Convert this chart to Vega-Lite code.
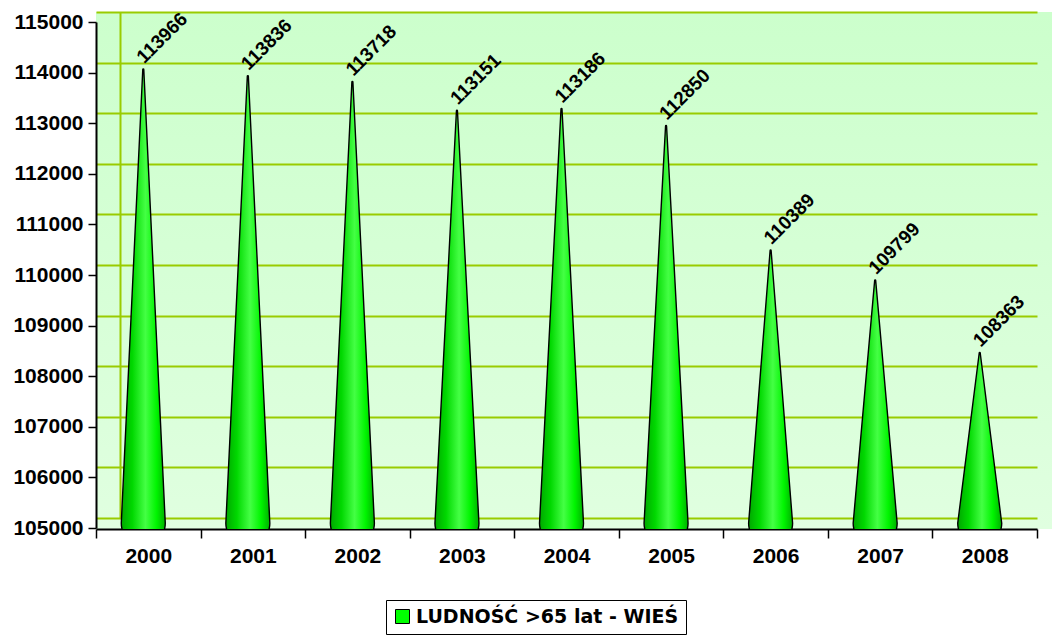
{
  "$schema": "https://vega.github.io/schema/vega-lite/v6.json",
  "width": 956,
  "height": 517,
  "autosize": {"type": "none"},
  "padding": {"left": 96, "top": 12, "right": 0, "bottom": 107},
  "background": "white",
  "view": {
    "stroke": null,
    "fill": {"gradient": "linear", "x1": 0, "y1": 0, "x2": 0, "y2": 1,
      "stops": [{"offset": 0, "color": "#ccffcc"}, {"offset": 1, "color": "#e0ffe0"}]}
  },
  "data": {"values": [
    {"year": "2000", "value": 113966, "base": 105000},
    {"year": "2001", "value": 113836, "base": 105000},
    {"year": "2002", "value": 113718, "base": 105000},
    {"year": "2003", "value": 113151, "base": 105000},
    {"year": "2004", "value": 113186, "base": 105000},
    {"year": "2005", "value": 112850, "base": 105000},
    {"year": "2006", "value": 110389, "base": 105000},
    {"year": "2007", "value": 109799, "base": 105000},
    {"year": "2008", "value": 108363, "base": 105000}
  ]},
  "encoding": {
    "x": {
      "field": "year", "type": "nominal", "sort": null,
      "scale": {"type": "band", "range": [0, 941], "paddingInner": 0, "paddingOuter": 0},
      "axis": {
        "title": null, "labelAngle": 0, "tickBand": "extent", "grid": false,
        "domainColor": "black", "domainWidth": 2,
        "tickColor": "black", "tickWidth": 1.5, "tickSize": 9,
        "labelFont": "Liberation Sans", "labelFontSize": 21, "labelFontWeight": "bold",
        "labelColor": "black", "labelPadding": 7
      }
    }
  },
  "layer": [
    {
      "transform": [{"fold": ["base", "value"], "as": ["end", "yv"]}],
      "mark": {
        "type": "trail", "clip": true,
        "fill": {"gradient": "linear", "x1": 0, "y1": 0, "x2": 1, "y2": 0,
          "stops": [
            {"offset": 0, "color": "#00a800"},
            {"offset": 0.25, "color": "#00d800"},
            {"offset": 0.55, "color": "#44ff44"},
            {"offset": 0.8, "color": "#00f500"},
            {"offset": 1, "color": "#00b000"}
          ]},
        "stroke": "black", "strokeWidth": 1.4,
        "xOffset": -5, "yOffset": 5.2
      },
      "encoding": {
        "y": {
          "field": "yv", "type": "quantitative",
          "scale": {"domain": [105000, 115000], "range": [506, 0], "nice": false, "zero": false},
          "axis": {
            "title": null, "orient": "left", "grid": true, "gridColor": "#99cc00", "gridWidth": 2,
            "labels": false, "ticks": false, "domain": true, "domainColor": "#99cc00", "domainWidth": 2,
            "offset": -24, "tickCount": 10
          }
        },
        "size": {"field": "end", "type": "ordinal", "scale": {"domain": ["base", "value"], "range": [44, 0]}, "legend": null},
        "detail": {"field": "year"}
      }
    },
    {
      "mark": {
        "type": "text", "angle": -45, "align": "left", "baseline": "alphabetic",
        "font": "Liberation Sans", "fontSize": 19, "fontWeight": "bold", "color": "black",
        "xOffset": -4, "yOffset": 0
      },
      "encoding": {
        "y": {
          "field": "value", "type": "quantitative",
          "axis": {
            "title": null, "orient": "left", "grid": false, "translate": 10.5, "offset": 10,
            "tickCount": 10, "format": "d",
            "domainColor": "black", "domainWidth": 2,
            "tickColor": "black", "tickWidth": 1.5, "tickSize": 8,
            "labelFont": "Liberation Sans", "labelFontSize": 21, "labelFontWeight": "bold",
            "labelColor": "black", "labelPadding": 5
          }
        },
        "text": {"field": "value", "type": "quantitative", "format": "d"}
      }
    },
    {
      "mark": {"type": "point", "shape": "square", "opacity": 0, "filled": true},
      "encoding": {
        "y": {"field": "value", "type": "quantitative", "axis": null},
        "color": {
          "datum": "LUDNOŚĆ >65 lat - WIEŚ", "type": "nominal",
          "scale": {"range": ["#00ff00"]},
          "legend": {
            "title": null, "orient": "none", "legendX": 290, "legendY": 588,
            "padding": 7, "strokeColor": "black", "fillColor": "white",
            "symbolType": "square", "symbolSize": 196, "symbolFillColor": "#00ff00",
            "symbolStrokeColor": "black", "symbolStrokeWidth": 1, "symbolOpacity": 1,
            "labelFont": "DejaVu Sans", "labelFontSize": 19, "labelFontWeight": "bold",
            "labelColor": "black", "labelOffset": 4, "labelLimit": 400,
            "encode": {"symbols": {"update": {"opacity": {"value": 1}, "fill": {"value": "#00ff00"}, "stroke": {"value": "black"}}}}
          }
        }
      }
    }
  ],
  "resolve": {"axis": {"y": "independent"}}
}
